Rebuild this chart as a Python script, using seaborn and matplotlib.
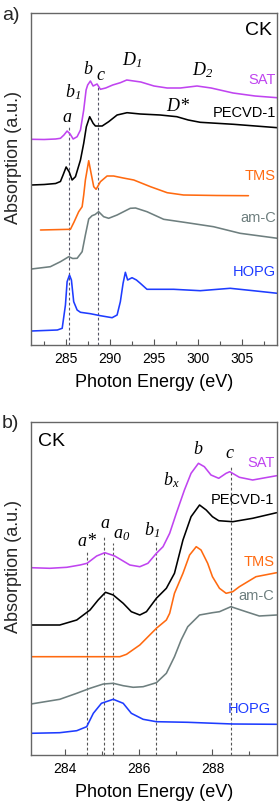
import matplotlib
matplotlib.use("Agg")
import matplotlib.pyplot as plt
import seaborn as sns
import numpy as np
import pandas as pd
from matplotlib.ticker import MultipleLocator

# ---------------- Panel a data (Photon energy eV, absorption a.u.) ----------------
a_sat_e = [281.06, 282.5, 283.8, 284.35, 284.75, 285.11, 285.45, 285.8, 286.25, 286.63, 287.0, 287.27, 287.45,
           287.76, 288.07, 288.52, 288.9, 289.5, 290.3, 291.17, 291.9, 293.5, 295.0, 296.5, 298.0, 299.9,
           301.5, 304.0, 306.5, 309.0]
a_sat_y = [205.7, 205.5, 206, 206.7, 210, 214, 211, 206, 208.3, 215, 235, 255, 260,
           264, 259, 261, 255.7, 257, 260, 262.3, 265, 263, 259, 257, 257, 259,
           257, 252, 249, 247.3]

a_pec_e = [281.06, 282.5, 283.8, 284.35, 284.65, 285.0, 285.35, 285.68, 286.06, 286.63, 287.0, 287.3, 287.68,
           288.07, 288.33, 289.1, 289.84, 290.8, 291.93, 293.44, 295.7, 297.6, 298.9, 300.26, 304.05, 309.05]
a_pec_y = [160, 160.5, 161.5, 163.5, 170, 178, 173, 165, 168.3, 185, 201.7, 218.3, 228.3,
           221.7, 219, 219, 223.3, 230, 232.3, 231, 230, 228.3, 225, 222.7, 220.7, 217.3]

a_tms_e = [282.08, 285.49, 285.9, 286.43, 286.82, 287.0, 287.19, 287.57, 287.84, 288.14, 288.41, 288.9,
           289.66, 290.4, 291.5, 292.7, 294.6, 296.5, 298.36, 302.16, 305.75]
a_tms_y = [115, 115.7, 123, 133.3, 138.3, 150, 165, 184.3, 171.7, 158.3, 155.7, 163.3,
           169, 169, 167, 165, 158.3, 152.3, 150, 149.5, 149.3]

a_amc_e = [281.06, 283.2, 284.35, 285.3, 285.75, 286.25, 286.82, 287.19, 287.57, 287.95, 288.3, 288.7,
           289.27, 289.84, 290.8, 292.3, 292.9, 294.2, 296.1, 298.75, 301.77, 304.8, 309.05]
a_amc_y = [76, 78.3, 83.3, 88.3, 86.5, 86.7, 93.3, 110, 126, 129.3, 130.5, 133.3,
           128.3, 126.7, 130, 136.7, 137, 133.3, 125.7, 122.3, 118.3, 111.7, 106.7]

a_hopg_e = [281.06, 284.0, 284.55, 284.92, 285.11, 285.38, 285.6, 285.86, 286.25, 286.63, 287.76, 288.9,
            290.23, 290.8, 291.17, 291.48, 291.74, 292.0, 292.5, 293.0, 293.44, 294.2, 297.23, 300.26,
            303.67, 306.3, 309.05]
a_hopg_y = [14, 15, 16.7, 40, 63.3, 70, 65, 43.3, 35, 32.7, 31.3, 29.3,
            27.3, 30, 43.3, 61.7, 72.7, 65, 67.3, 65, 61.7, 55.7, 55.7, 54.3,
            56.7, 54.3, 51.7]

a_dash_e = [285.3, 288.65]
a_dash_top = [218, 258]

# ---------------- Panel b data ----------------
b_sat_e = [283.08, 283.59, 284.05, 284.41, 284.6, 284.86, 285.08, 285.35, 285.76, 286.03, 286.25, 286.48,
           286.66, 286.84, 287.02, 287.24, 287.42, 287.62, 287.78, 287.96, 288.17, 288.37, 288.47, 288.73,
           289.09, 289.74]
b_sat_y = [187.3, 186.7, 187.7, 190, 191.7, 199, 202.3, 199, 190, 188.3, 191.7, 201.7,
           208.3, 221.7, 241.7, 265, 281.7, 291.7, 288.3, 280, 276.7, 281.7, 283.3, 277.7,
           275, 279.3]

b_pec_e = [283.08, 283.86, 284.32, 284.68, 284.9, 285.1, 285.31, 285.58, 285.8, 286.03, 286.21, 286.48,
           286.75, 286.97, 287.2, 287.42, 287.65, 287.83, 288.0, 288.17, 288.55, 289.09, 289.74]
b_pec_y = [130, 130, 135, 145, 155, 162.7, 160, 151.7, 143.3, 140, 143.3, 156.7,
           166.7, 181.7, 215, 238.3, 250, 245, 238.3, 234.3, 233.3, 236.7, 242.3]

b_tms_e = [283.08, 285.49, 285.67, 286.03, 286.48, 286.75, 286.84, 286.97, 287.2, 287.38, 287.56, 287.69,
           287.87, 288.0, 288.19, 288.37, 288.55, 288.73, 289.18, 289.74]
b_tms_y = [98.3, 98.3, 100.7, 110, 126.7, 135, 141.7, 161.7, 181.7, 200, 208.3, 205,
           191.7, 178.3, 166.7, 161.7, 163.3, 168.3, 178.3, 182.3]

b_amc_e = [283.08, 283.86, 284.32, 284.68, 285.04, 285.31, 285.58, 285.85, 286.12, 286.48, 286.75, 286.97,
           287.15, 287.33, 287.65, 288.0, 288.19, 288.5, 288.91, 289.27, 289.74]
b_amc_y = [51, 55.7, 61.7, 66.7, 71, 71.7, 69.3, 67.7, 68.3, 72.3, 81.7, 98.3,
           115, 128.3, 140, 142.3, 143.3, 148.3, 143.3, 139, 140]

b_hopg_e = [283.08, 283.86, 284.32, 284.59, 284.77, 284.99, 285.31, 285.58, 285.8, 286.12, 286.48, 287.33,
            288.55, 289.74]
b_hopg_y = [21.7, 22.3, 24.3, 28.3, 41.7, 51.7, 55.7, 51.7, 41.7, 35.7, 33.3, 32.7, 31, 30.7]

b_dash_e = [284.6, 285.06, 285.31, 286.47, 288.5]
b_dash_top = [203, 218, 212, 213, 288]

samples = ["SAT", "PECVD-1", "TMS", "am-C", "HOPG"]
colors = {"SAT": "#C044F0", "PECVD-1": "#000000", "TMS": "#FF6A10", "am-C": "#6E7F7F", "HOPG": "#1E3CFF"}

# ---------------- Style ----------------
sns.set_theme(style="white")
plt.rcParams["font.family"] = ["Liberation Sans", "DejaVu Sans"]
plt.rcParams["mathtext.fontset"] = "custom"
plt.rcParams["mathtext.it"] = "Liberation Serif:italic"
plt.rcParams["mathtext.rm"] = "Liberation Serif:italic"

fig = plt.figure(figsize=(2.79, 8.05), dpi=100)
W, H = 279, 805
ax_a = fig.add_axes([31 / W, (H - 345) / H, 246 / W, 332 / H])
ax_b = fig.add_axes([31 / W, (H - 755) / H, 246 / W, 333 / H])


def draw(ax, data):
    for name, (e, y) in data.items():
        df = pd.DataFrame({"E": e, "A": y})
        sns.lineplot(data=df, x="E", y="A", ax=ax, color=colors[name], lw=1.15,
                     estimator=None, sort=False, legend=False)
        ax.lines[-1].set_solid_joinstyle("round")


draw(ax_a, {"SAT": (a_sat_e, a_sat_y), "PECVD-1": (a_pec_e, a_pec_y), "TMS": (a_tms_e, a_tms_y),
            "am-C": (a_amc_e, a_amc_y), "HOPG": (a_hopg_e, a_hopg_y)})
draw(ax_b, {"SAT": (b_sat_e, b_sat_y), "PECVD-1": (b_pec_e, b_pec_y), "TMS": (b_tms_e, b_tms_y),
            "am-C": (b_amc_e, b_amc_y), "HOPG": (b_hopg_e, b_hopg_y)})

for e, t in zip(a_dash_e, a_dash_top):
    ax_a.plot([e, e], [0, t], color="#555566", lw=0.8, ls=(0, (2.5, 2)), zorder=0)
for e, t in zip(b_dash_e, b_dash_top):
    ax_b.plot([e, e], [0, t], color="#555555", lw=0.8, ls=(0, (2.5, 2)), zorder=0)

ax_a.set_xlim(281.0, 309.0)
ax_a.set_ylim(0, 332)
ax_b.set_xlim(283.08, 289.75)
ax_b.set_ylim(0, 333)
ax_a.xaxis.set_major_locator(MultipleLocator(5))
ax_a.xaxis.set_minor_locator(MultipleLocator(2.5))
ax_b.xaxis.set_major_locator(MultipleLocator(2))
ax_b.xaxis.set_minor_locator(MultipleLocator(1))

for ax in (ax_a, ax_b):
    ax.set_yticks([])
    ax.set_ylabel("")
    ax.set_xlabel("Photon Energy (eV)", fontsize=13, labelpad=6, color="black")
    ax.tick_params(axis="x", which="both", direction="in", bottom=True, top=False,
                   labelsize=10, colors="#555555", labelcolor="black", pad=5)
    ax.tick_params(axis="x", which="major", length=4, width=0.8)
    ax.tick_params(axis="x", which="minor", length=3, width=0.8)
    for sp in ax.spines.values():
        sp.set_color("#666666")
        sp.set_linewidth(1.0)

# sample labels
a_lab_y = {"SAT": 265, "PECVD-1": 232, "TMS": 169, "am-C": 127, "HOPG": 73}
b_lab_y = {"SAT": 292, "PECVD-1": 255, "TMS": 193, "am-C": 159, "HOPG": 46}
for name in samples:
    ax_a.text(308.85, a_lab_y[name], name, color=colors[name], fontsize=10.5, ha="right", va="center")
    ax_b.text(289.68 if name != "HOPG" else 289.58, b_lab_y[name], name, color=colors[name],
              fontsize=10.5, ha="right", va="center")

ax_a.text(308.4, 315, "CK", fontsize=14, ha="right", va="center", color="black")
ax_b.text(283.27, 314, "CK", fontsize=14, ha="left", va="center", color="black")

serif = dict(family="Liberation Serif", style="italic", fontsize=13, ha="center", va="center", color="black")
for s, x, y in [(r"$a$", 285.1, 228), (r"$b_{1}$", 285.83, 253), (r"$b$", 287.53, 276), (r"$c$", 288.9, 270),
                (r"$D_{1}$", 292.53, 285), (r"$D_{2}$", 300.5, 275), (r"$D$*", 297.76, 239)]:
    ax_a.text(x, y, s, **serif)
for s, x, y in [(r"$a$*", 284.59, 214), (r"$a$", 285.08, 232), (r"$a_{0}$", 285.54, 221),
                (r"$b_{1}$", 286.35, 225), (r"$b_{x}$", 286.89, 275), (r"$b$", 287.62, 306), (r"$c$", 288.46, 302)]:
    ax_b.text(x, y, s, **serif)

fig.text(2 / W, 1 - 15 / H, "a)", fontsize=14, ha="left", va="center")
fig.text(2 / W, 1 - 423 / H, "b)", fontsize=14, ha="left", va="center")
fig.text(14 / W, 1 - 157 / H, "Absorption (a.u.)", fontsize=13, rotation=90, ha="center", va="center")
fig.text(14 / W, 1 - 566 / H, "Absorption (a.u.)", fontsize=13, rotation=90, ha="center", va="center")

fig.savefig("out.png", dpi=100)
